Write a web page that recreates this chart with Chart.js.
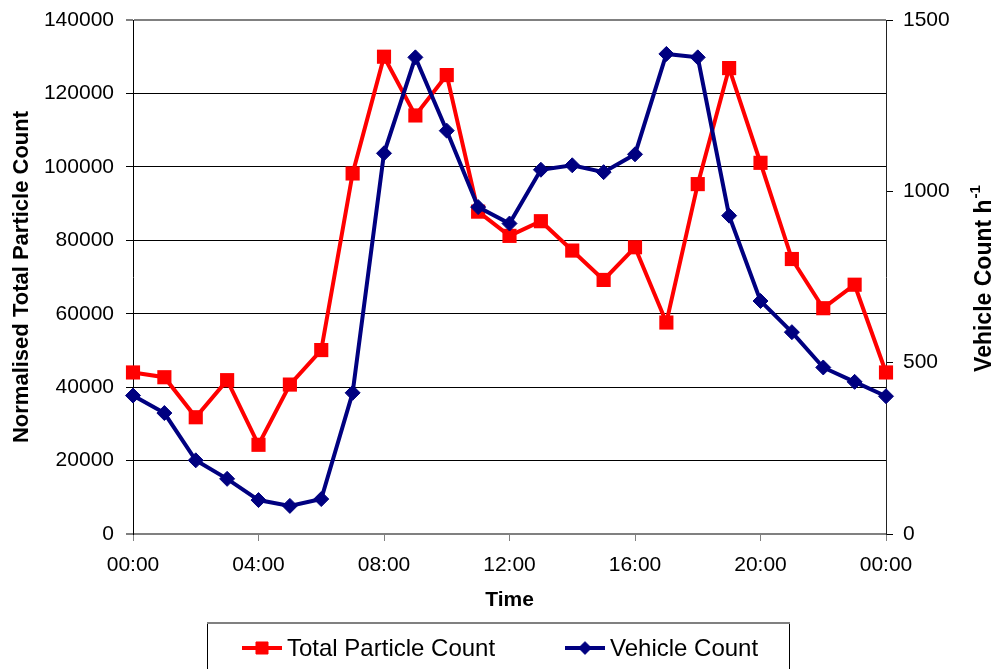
<!DOCTYPE html>
<html>
<head>
<meta charset="utf-8">
<script src="https://cdn.jsdelivr.net/npm/chart.js@4/dist/chart.umd.min.js"></script>
<style>
  html, body { margin: 0; padding: 0; background: #fff; }
  #wrap { width: 995px; height: 669px; position: relative; }
</style>
</head>
<body>
<div id="wrap"><canvas id="c"></canvas></div>
<script>
// Hour of day (0 = midnight, 24 = following midnight)
const hours = [0, 1, 2, 3, 4, 5, 6, 7, 8, 9, 10, 11, 12, 13, 14, 15, 16, 17, 18, 19, 20, 21, 22, 23, 24];

// Normalised total particle count (left axis)
const particleCount = [44000, 42700, 31800, 41900, 24300, 40700, 50100, 98200, 130000, 114000, 125000, 87800,
  81200, 85200, 77200, 69200, 78100, 57600, 95300, 126900, 101100, 74900, 61500, 67900, 44000];

// Vehicle count per hour (right axis)
const vehicleCount = [404, 353, 215, 161, 99, 82, 102, 412, 1111, 1391, 1177, 954,
  906, 1063, 1076, 1056, 1108, 1401, 1391, 929, 680, 589, 486, 444, 402];

const seriesNames = ['Total Particle Count', 'Vehicle Count'];
const xTitle = 'Time';
const leftTitle = 'Normalised Total Particle Count';
const rightTitleMain = 'Vehicle Count h';
const rightTitleSup = '-1';

const FONT = '"Liberation Sans", Arial, sans-serif';
const RED = '#FF0000';
const NAVY = '#000080';

Chart.defaults.color = '#000';
Chart.defaults.font.family = FONT;

const toPoints = (vals) => hours.map((h, i) => ({ x: h, y: vals[i] }));
const hhmm = (v) => String(v % 24).padStart(2, '0') + ':00';
const isEdge = (c) => c.tick && (c.tick.value === 0 || c.tick.value === 140000);

// Fix a vertical axis' width and drop the extra label padding above/below the plot
const fixVertical = (width) => (s) => {
  s.width = width;
  s.paddingTop = 0;
  s.paddingBottom = 0;
};

// Rotated right-hand axis title with a superscript, reading bottom-to-top
const rightTitlePlugin = {
  id: 'rightTitle',
  afterDraw(chart) {
    const ctx = chart.ctx;
    const y1 = chart.scales.y1;
    const cy = (y1.top + y1.bottom) / 2;
    ctx.save();
    ctx.translate(985, cy + 2);
    ctx.rotate(-Math.PI / 2);
    ctx.fillStyle = '#000';
    ctx.textAlign = 'left';
    ctx.textBaseline = 'middle';
    ctx.font = 'bold 23px ' + FONT;
    const w1 = ctx.measureText(rightTitleMain).width;
    ctx.font = 'bold 15px ' + FONT;
    const w2 = ctx.measureText(rightTitleSup).width;
    const start = -(w1 + w2) / 2;
    ctx.font = 'bold 23px ' + FONT;
    ctx.fillText(rightTitleMain, start, 0);
    ctx.font = 'bold 15px ' + FONT;
    ctx.fillText(rightTitleSup, start + w1 + 1, -9);
    ctx.restore();
  }
};

// Boxed legend below the x axis; each entry shows the line with its marker
const boxLegendPlugin = {
  id: 'boxLegend',
  afterDraw(chart) {
    const c = chart.ctx;
    const dsRed = chart.data.datasets[1];
    const dsNavy = chart.data.datasets[0];
    c.save();
    c.strokeStyle = '#000';
    c.lineWidth = 1;
    c.beginPath();
    c.moveTo(207.5, 690);
    c.lineTo(207.5, 623.5);
    c.lineTo(789.5, 623.5);
    c.lineTo(789.5, 690);
    c.stroke();
    c.strokeStyle = '#808080';
    c.lineWidth = 2;
    c.beginPath();
    c.moveTo(207, 623);
    c.lineTo(790, 623);
    c.stroke();
    const cy = 648;
    [[242, dsRed], [565, dsNavy]].forEach(([x, ds]) => {
      c.strokeStyle = ds.borderColor;
      c.lineWidth = 4;
      c.beginPath();
      c.moveTo(x, cy);
      c.lineTo(x + 40, cy);
      c.stroke();
      c.fillStyle = ds.pointBackgroundColor;
      c.strokeStyle = ds.pointBorderColor;
      c.lineWidth = 1;
      Chart.helpers.drawPoint(c, { pointStyle: ds.pointStyle, radius: ds.pointRadius * 0.85, borderWidth: 1 }, x + 20, cy);
      c.fillStyle = '#000';
      c.font = '24px ' + FONT;
      c.textAlign = 'left';
      c.textBaseline = 'middle';
      c.fillText(ds.label, x + 45, cy + 1);
    });
    c.restore();
  }
};

const ctx = document.getElementById('c').getContext('2d');
new Chart(ctx, {
  type: 'line',
  data: {
    datasets: [
      {
        label: seriesNames[1],
        data: toPoints(vehicleCount),
        yAxisID: 'y1',
        borderColor: NAVY,
        backgroundColor: NAVY,
        pointBackgroundColor: NAVY,
        pointBorderColor: NAVY,
        pointStyle: 'rectRot',
        pointRadius: 7.5,
        pointBorderWidth: 1,
        borderWidth: 4,
        tension: 0,
        clip: false,
        order: 0
      },
      {
        label: seriesNames[0],
        data: toPoints(particleCount),
        yAxisID: 'y',
        borderColor: RED,
        backgroundColor: RED,
        pointBackgroundColor: RED,
        pointBorderColor: RED,
        pointStyle: 'rect',
        pointRadius: 10,
        pointBorderWidth: 0,
        borderWidth: 4,
        tension: 0,
        clip: false,
        order: 1
      }
    ]
  },
  options: {
    responsive: true,
    maintainAspectRatio: false,
    animation: false,
    events: [],
    layout: { padding: { top: 20, left: 0, right: 0, bottom: 0 } },
    plugins: {
      legend: { display: false },
      tooltip: { enabled: false }
    },
    scales: {
      x: {
        type: 'linear',
        min: 0,
        max: 24,
        offset: false,
        ticks: {
          stepSize: 4,
          autoSkip: false,
          maxRotation: 0,
          padding: 12,
          font: { size: 21 },
          callback: (v) => hhmm(v)
        },
        grid: {
          drawOnChartArea: false,
          drawTicks: true,
          tickLength: 7,
          color: '#808080',
          lineWidth: 1
        },
        border: { color: '#808080', width: 2 },
        title: {
          display: true,
          text: xTitle,
          font: { size: 21, weight: 'bold' },
          padding: { top: 0, bottom: 56 }
        },
        afterFit: (s) => { s.height = 135; }
      },
      y: {
        position: 'left',
        min: 0,
        max: 140000,
        ticks: {
          stepSize: 20000,
          padding: 12,
          font: { size: 21 },
          callback: (v) => String(v)
        },
        grid: {
          drawTicks: true,
          tickLength: 7,
          color: (c) => isEdge(c) ? '#808080' : '#000',
          lineWidth: (c) => isEdge(c) ? 2 : 1
        },
        border: { color: '#000', width: 1 },
        title: {
          display: true,
          text: leftTitle,
          font: { size: 22, weight: 'bold' },
          padding: { top: 9, bottom: 0 }
        },
        afterFit: fixVertical(133)
      },
      y1: {
        position: 'right',
        min: 0,
        max: 1500,
        ticks: {
          stepSize: 500,
          padding: 10,
          font: { size: 21 },
          callback: (v) => String(v)
        },
        grid: {
          drawOnChartArea: false,
          drawTicks: true,
          tickLength: 7,
          color: '#000'
        },
        border: { color: '#222', width: 1 },
        afterFit: fixVertical(109)
      }
    }
  },
  plugins: [rightTitlePlugin, boxLegendPlugin]
});
</script>
</body>
</html>
